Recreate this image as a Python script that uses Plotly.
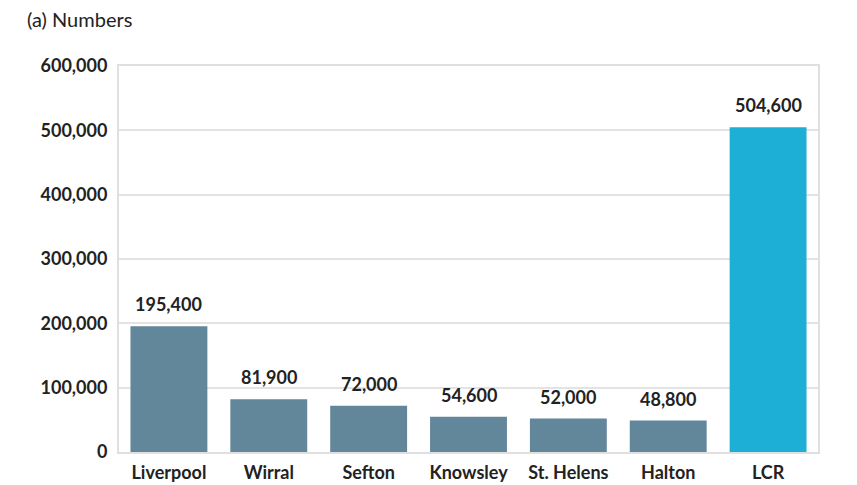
import plotly.graph_objects as go

categories = ["Liverpool", "Wirral", "Sefton", "Knowsley", "St. Helens", "Halton", "LCR"]
values = [195400, 81900, 72000, 54600, 52000, 48800, 504600]
bar_colors = ["#62869a"] * 6 + ["#1eafd6"]
y_ticks = [0, 100000, 200000, 300000, 400000, 500000, 600000]
y_tick_labels = ["0", "100,000", "200,000", "300,000", "400,000", "500,000", "600,000"]

font_family = "Lato, 'Open Sans', sans-serif"
W, H = 849, 477
ML, MR, MT, MB = 111, 39, 58, 33

fig = go.Figure(go.Bar(
    x=categories, y=values,
    marker=dict(color=bar_colors, line=dict(width=0)),
    hoverinfo="x+y",
))

for c, v in zip(categories, values):
    fig.add_annotation(
        x=c, y=v, text=f"{v:,}", showarrow=False,
        yanchor="bottom", yshift=9,
        font=dict(family=font_family, size=18, color="#222222", weight="bold"),
    )

fig.update_layout(
    width=W, height=H,
    margin=dict(l=ML, r=MR, t=MT, b=MB, autoexpand=False),
    paper_bgcolor="white", plot_bgcolor="white",
    bargap=0.23,
    showlegend=False,
    font=dict(family=font_family, color="#222222"),
    title=dict(
        text="(a) Numbers", xref="container", yref="container",
        x=19 / W, y=1 - 12 / H, xanchor="left", yanchor="middle",
        font=dict(family=font_family, size=20, color="#222222"),
    ),
)
fig.update_yaxes(
    range=[0, 600000], tickvals=y_ticks, ticktext=y_tick_labels,
    showgrid=True, gridcolor="#e3e3e3", gridwidth=2,
    showline=True, linecolor="#e0e0e0", linewidth=2, mirror=True,
    zeroline=False, ticks="", ticklabelstandoff=6,
    tickfont=dict(family=font_family, size=18, color="#222222", weight="bold"),
)
fig.update_xaxes(
    showline=True, linecolor="#e0e0e0", linewidth=2, mirror=True,
    ticks="", showgrid=False, ticklabelstandoff=3,
    tickfont=dict(family=font_family, size=18, color="#222222", weight="bold"),
)

fig.write_html("out.html")
